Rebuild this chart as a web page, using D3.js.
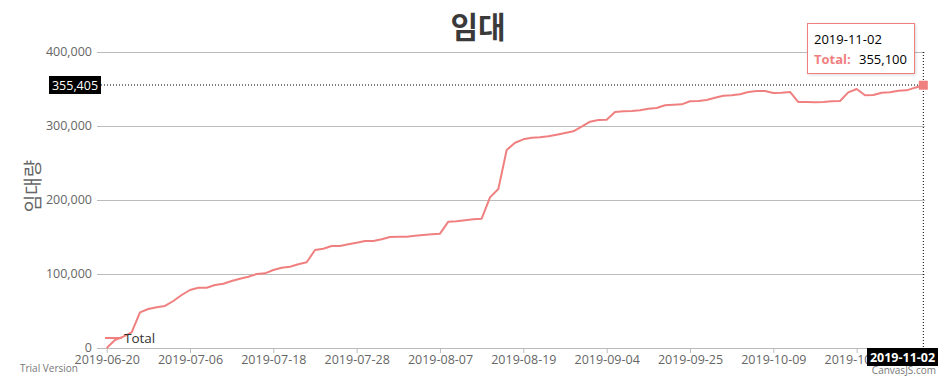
<!DOCTYPE html>
<html>
<head>
    <meta charset="utf-8">
    <title>임대</title>
</head>
<body>
<style type="text/css">
    body {
        margin: 0;
        background: #fff;
    }

    #renderer {
        display: block;
        width: 952px;
        height: 384px;
        background: #FFF
    }
</style>
<script type="text/javascript" src="https://cdnjs.cloudflare.com/ajax/libs/d3/7.8.5/d3.min.js"></script>
<svg id='renderer'></svg>

<script type="text/javascript">
    // 날짜별 임대 합계
    var dates = [
        '2019-06-20', '2019-06-21', '2019-06-22', '2019-06-24', '2019-06-25', '2019-06-26', '2019-06-27', '2019-06-28', '2019-07-01', '2019-07-03',
        '2019-07-06', '2019-07-07', '2019-07-08', '2019-07-09', '2019-07-10', '2019-07-11', '2019-07-12', '2019-07-14', '2019-07-15', '2019-07-16',
        '2019-07-18', '2019-07-19', '2019-07-20', '2019-07-21', '2019-07-22', '2019-07-23', '2019-07-24', '2019-07-25', '2019-07-26', '2019-07-27',
        '2019-07-28', '2019-07-29', '2019-07-30', '2019-07-31', '2019-08-01', '2019-08-02', '2019-08-03', '2019-08-04', '2019-08-05', '2019-08-06',
        '2019-08-07', '2019-08-08', '2019-08-09', '2019-08-10', '2019-08-12', '2019-08-13', '2019-08-14', '2019-08-15', '2019-08-16', '2019-08-18',
        '2019-08-19', '2019-08-20', '2019-08-21', '2019-08-22', '2019-08-23', '2019-08-26', '2019-08-27', '2019-08-28', '2019-08-30', '2019-09-02',
        '2019-09-04', '2019-09-05', '2019-09-06', '2019-09-09', '2019-09-10', '2019-09-11', '2019-09-16', '2019-09-17', '2019-09-19', '2019-09-23',
        '2019-09-25', '2019-09-26', '2019-09-27', '2019-09-28', '2019-09-30', '2019-10-01', '2019-10-02', '2019-10-04', '2019-10-05', '2019-10-07',
        '2019-10-09', '2019-10-10', '2019-10-11', '2019-10-12', '2019-10-14', '2019-10-15', '2019-10-16', '2019-10-17', '2019-10-18', '2019-10-21',
        '2019-10-23', '2019-10-24', '2019-10-25', '2019-10-26', '2019-10-28', '2019-10-29', '2019-10-30', '2019-10-31', '2019-11-02'
    ];

    var totals = [
        0, 10800, 15300, 21200, 48200, 52700, 55000, 56800, 63500, 71600,
        78400, 81500, 81500, 85100, 86900, 90500, 93600, 96300, 100000, 100900,
        105400, 108500, 109900, 113100, 115800, 132400, 134200, 137800, 137800, 140100,
        142300, 144600, 144600, 146900, 150000, 150400, 150400, 151800, 152700, 153600,
        154500, 170700, 171200, 172600, 173900, 174700, 203600, 214900, 267600, 277400,
        282000, 284200, 284700, 286100, 288200, 290500, 292800, 299100, 305800, 308100,
        308500, 318900, 319900, 320300, 321200, 323400, 324300, 328000, 328800, 329300,
        333400, 333800, 335100, 338200, 340900, 341500, 342800, 345900, 347300, 347300,
        344600, 345000, 346000, 332400, 332400, 332000, 332400, 333400, 333800, 345500,
        350000, 341500, 341900, 345000, 345500, 347700, 348200, 351800, 355100
    ];

    var yTickValues = [0, 100000, 200000, 300000, 400000];
    var xTickIndexes = [0, 10, 20, 30, 40, 50, 60, 70, 80, 90];

    // 마우스가 올라가 있는 위치 (툴팁 / 십자선)
    var hoverIndex = 98;
    var crosshairValue = 355405;

    var root = d3.select('#renderer');

    var totalWidth = 952;
    var totalHeight = 384;

    var plotLeft = 97;
    var plotRight = 925;
    var plotTop = 52;
    var plotBottom = 348;

    var lineColor = '#F08080';
    var labelFont = "'Open Sans', 'Noto Sans', sans-serif";

    var x = d3.scaleLinear()
        .domain([-1.16, dates.length - 1 + 0.2])
        .range([plotLeft, plotRight]);

    var y = d3.scaleLinear()
        .domain([0, 400000])
        .range([plotBottom, plotTop]);

    var defs = root.append('defs');

    // 가로축 라벨이 십자선 라벨 밑으로 들어가는 부분을 잘라줍니다.
    defs.append('clipPath').attr('id', 'xlabel-clip')
        .append('rect')
        .attr('x', 0)
        .attr('y', 0)
        .attr('width', 867)
        .attr('height', totalHeight);

    // 제목
    root.append('text')
        .text('임대')
        .attr('x', 478)
        .attr('y', 38)
        .attr('font-family', "'Noto Sans CJK KR', sans-serif")
        .attr('font-weight', 'bold')
        .attr('font-size', 30)
        .attr('text-anchor', 'middle')
        .style('fill', '#3a3a3a');

    // 세로축 제목
    root.append('text')
        .text('임대량')
        .attr('transform', 'translate(40,186) rotate(-90)')
        .attr('font-family', "'Noto Sans CJK KR', sans-serif")
        .attr('font-size', 19)
        .attr('text-anchor', 'middle')
        .style('fill', '#666');

    // 세로축 + 그리드
    var yAxis = root.append('g')
        .attr('transform', 'translate(' + plotLeft + ',0)')
        .call(d3.axisLeft(y)
            .tickValues(yTickValues)
            .tickFormat(d3.format(','))
            .tickSize(-(plotRight - plotLeft))
            .tickPadding(5));
    yAxis.select('.domain').remove();
    yAxis.selectAll('line').attr('stroke', '#bbb');
    yAxis.selectAll('text')
        .attr('font-family', labelFont)
        .attr('font-size', 12.5)
        .attr('dy', '0.25em')
        .style('fill', '#666');

    // 가로축
    var xAxis = root.append('g')
        .attr('transform', 'translate(0,' + plotBottom + ')')
        .attr('clip-path', 'url(#xlabel-clip)')
        .call(d3.axisBottom(x)
            .tickValues(xTickIndexes)
            .tickFormat(function (i) { return dates[i]; })
            .tickSizeOuter(0)
            .tickSize(5)
            .tickPadding(2));
    xAxis.select('.domain').remove();
    xAxis.selectAll('line').attr('stroke', '#bbb');
    xAxis.selectAll('text')
        .attr('font-family', labelFont)
        .attr('font-size', 12.5)
        .style('fill', '#666');

    root.append('line')
        .attr('x1', plotLeft)
        .attr('x2', plotRight)
        .attr('y1', plotBottom + 0.5)
        .attr('y2', plotBottom + 0.5)
        .attr('stroke', '#bbb');

    // 라인
    var line = d3.line()
        .x(function (d, i) { return x(i); })
        .y(function (d) { return y(d); });

    root.append('path')
        .datum(totals)
        .attr('d', line)
        .attr('fill', 'none')
        .attr('stroke', lineColor)
        .attr('stroke-width', 2)
        .attr('stroke-linejoin', 'round');

    // 범례
    root.append('line')
        .attr('x1', 105)
        .attr('x2', 122)
        .attr('y1', 338)
        .attr('y2', 338)
        .attr('stroke', lineColor)
        .attr('stroke-width', 2);
    root.append('text')
        .text('Total')
        .attr('x', 124)
        .attr('y', 343)
        .attr('font-family', labelFont)
        .attr('font-size', 13.5)
        .style('fill', '#333');

    // 십자선
    var hoverX = x(hoverIndex);
    var crossY = y(crosshairValue);

    root.append('line')
        .attr('x1', 101)
        .attr('x2', plotRight)
        .attr('y1', crossY)
        .attr('y2', crossY)
        .attr('stroke', '#000')
        .attr('stroke-dasharray', '1,2');

    root.append('line')
        .attr('x1', hoverX)
        .attr('x2', hoverX)
        .attr('y1', plotTop)
        .attr('y2', plotBottom)
        .attr('stroke', '#000')
        .attr('stroke-dasharray', '1,2');

    root.append('rect')
        .attr('x', 49)
        .attr('y', crossY - 9)
        .attr('width', 52)
        .attr('height', 18)
        .attr('fill', '#000');
    root.append('text')
        .text(d3.format(',')(crosshairValue))
        .attr('x', 75)
        .attr('y', crossY + 4.5)
        .attr('font-family', labelFont)
        .attr('font-size', 12.5)
        .attr('text-anchor', 'middle')
        .style('fill', '#fff');

    root.append('rect')
        .attr('x', 867)
        .attr('y', plotBottom)
        .attr('width', 71)
        .attr('height', 18)
        .attr('fill', '#000');
    root.append('text')
        .text(dates[hoverIndex])
        .attr('x', 902.5)
        .attr('y', plotBottom + 13.5)
        .attr('font-family', labelFont)
        .attr('font-weight', 'bold')
        .attr('font-size', 12.5)
        .attr('text-anchor', 'middle')
        .style('fill', '#fff');

    // 강조된 포인트
    root.append('rect')
        .attr('x', hoverX - 4.5)
        .attr('y', y(totals[hoverIndex]) - 4.5)
        .attr('width', 9)
        .attr('height', 9)
        .attr('fill', lineColor);

    // 툴팁
    var shadow = defs.append('filter').attr('id', 'shadow')
        .attr('x', '-10%').attr('y', '-10%').attr('width', '130%').attr('height', '140%');
    shadow.append('feDropShadow')
        .attr('dx', 1).attr('dy', 1).attr('stdDeviation', 1.5)
        .attr('flood-color', '#000').attr('flood-opacity', 0.15);

    root.append('rect')
        .attr('x', 807.5)
        .attr('y', 23.5)
        .attr('width', 107)
        .attr('height', 50)
        .attr('fill', '#fff')
        .attr('stroke', lineColor)
        .attr('stroke-width', 1)
        .attr('filter', 'url(#shadow)');
    root.append('text')
        .text(dates[hoverIndex])
        .attr('x', 814)
        .attr('y', 44)
        .attr('font-family', labelFont)
        .attr('font-size', 13)
        .style('fill', '#000');
    root.append('text')
        .text('Total:')
        .attr('x', 814)
        .attr('y', 64)
        .attr('font-family', labelFont)
        .attr('font-weight', 'bold')
        .attr('font-size', 13)
        .style('fill', lineColor);
    root.append('text')
        .text(d3.format(',')(totals[hoverIndex]))
        .attr('x', 859)
        .attr('y', 64)
        .attr('font-family', labelFont)
        .attr('font-size', 13)
        .style('fill', '#000');

    // 워터마크
    root.append('text')
        .text('Trial Version')
        .attr('x', 20)
        .attr('y', 372)
        .attr('font-family', labelFont)
        .attr('font-size', 10)
        .style('fill', '#777');
    root.append('text')
        .text('CanvasJS.com')
        .attr('x', 936)
        .attr('y', 374)
        .attr('font-family', labelFont)
        .attr('font-size', 10)
        .attr('text-anchor', 'end')
        .style('fill', '#777');
</script>
</body>
</html>
